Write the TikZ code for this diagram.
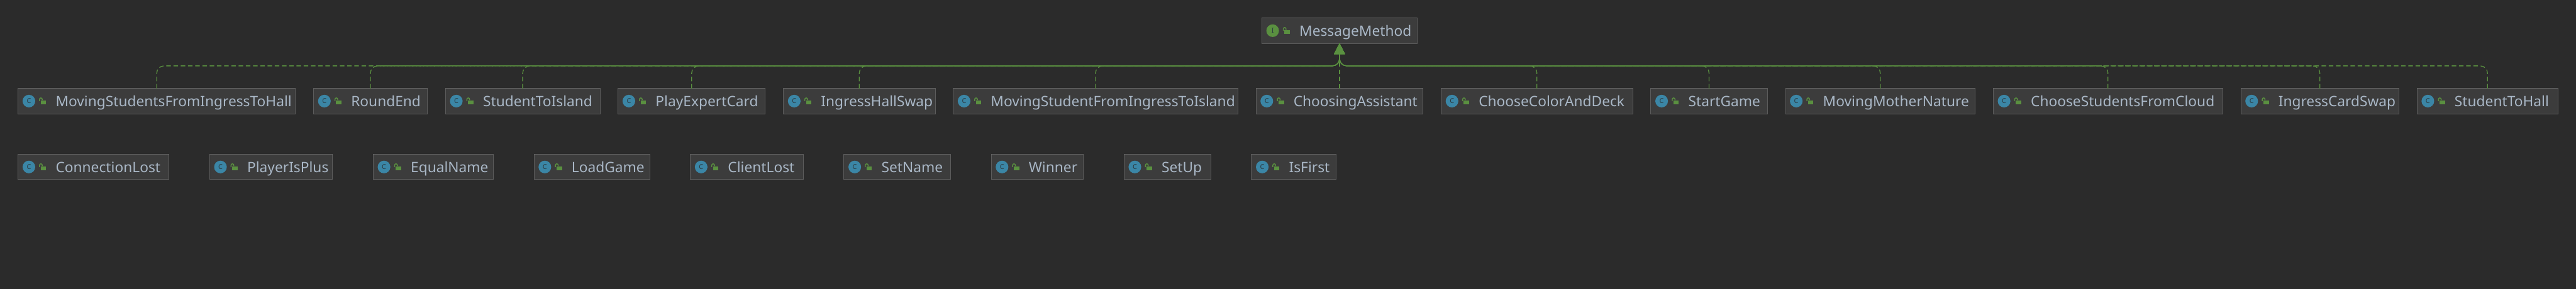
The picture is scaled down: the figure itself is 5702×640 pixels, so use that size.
\documentclass[tikz,border=0pt]{standalone}
\usepackage{fontspec}
\usepackage{tikz}
\usetikzlibrary{arrows.meta}
\setmainfont{Noto Sans}
\definecolor{canvasbg}{HTML}{2B2B2B}
\definecolor{boxfill}{HTML}{3C3C3C}
\definecolor{boxline}{HTML}{5C5C5C}
\definecolor{boxtop}{HTML}{686868}
\definecolor{labeltext}{HTML}{A9B7C6}
\definecolor{implgreen}{HTML}{5A9040}
\definecolor{classblue}{HTML}{3B86A6}
\definecolor{letterdark}{HTML}{2B3A40}
\tikzset{
  umlbox/.style={draw=boxline,fill=boxfill,line width=.012cm,outer sep=0,inner sep=0,minimum height=.56cm},
  umllabel/.style={anchor=base west,inner sep=0,text=labeltext,font=\fontsize{9pt}{11pt}\selectfont},
  umlicon/.style={circle,inner sep=0,minimum size=.28cm,text=letterdark,font=\fontsize{4.3pt}{5pt}\selectfont\bfseries},
  lockbody/.style={fill=implgreen,inner sep=0,minimum width=.12cm,minimum height=.09cm,outer sep=0},
  lockarc/.style={draw=implgreen,line width=.02cm},
  implements/.style={draw=implgreen,line width=.018cm,dash pattern=on .10cm off .06cm,rounded corners=.16cm,-{Triangle[length=.24cm,width=.24cm]}}
}
% name, left, right, top, icon colour, icon letter, label
\newcommand{\umlclass}[7]{
  \node[umlbox,minimum width={(#3-#2)*.01cm}] (#1) at ({(#2+#3)/2},{-#4-28}) {};
  \draw[boxtop,line width=.02cm] (#1.north west) -- (#1.north east);
  \node[umlicon,fill=#5] (#1-icon) at ({#2+24},{-#4-28}) {#6};
  \node[lockbody] (#1-lock) at ({#2+56},{-#4-31}) {};
  \draw[lockarc] ({#2+47.5},{-#4-28}) -- ({#2+47.5},{-#4-24}) arc (180:0:3) -- ({#2+53.5},{-#4-26});
  \node[umllabel] (#1-label) at ({#2+82.5},{-#4-40}) {#7};
}
\begin{document}
\begin{tikzpicture}[x=.01cm,y=.01cm]
  \fill[canvasbg] (0,0) rectangle (5702,-640);
  \useasboundingbox (0,0) rectangle (5702,-640);
  % interface on top
  \umlclass{messageMethod}{2793}{3137}{40}{implgreen}{I}{MessageMethod}
  % first row
  \umlclass{movingToHall}{40}{654}{196}{classblue}{C}{MovingStudentsFromIngressToHall}
  \umlclass{roundEnd}{694}{946}{196}{classblue}{C}{RoundEnd}
  \umlclass{studentToIsland}{986}{1328}{196}{classblue}{C}{StudentToIsland}
  \umlclass{playExpertCard}{1368}{1694}{196}{classblue}{C}{PlayExpertCard}
  \umlclass{ingressHallSwap}{1734}{2070}{196}{classblue}{C}{IngressHallSwap}
  \umlclass{movingToIsland}{2110}{2740}{196}{classblue}{C}{MovingStudentFromIngressToIsland}
  \umlclass{choosingAssistant}{2780}{3150}{196}{classblue}{C}{ChoosingAssistant}
  \umlclass{chooseColor}{3190}{3614}{196}{classblue}{C}{ChooseColorAndDeck}
  \umlclass{startGame}{3654}{3912}{196}{classblue}{C}{StartGame}
  \umlclass{movingNature}{3952}{4372}{196}{classblue}{C}{MovingMotherNature}
  \umlclass{chooseCloud}{4412}{4920}{196}{classblue}{C}{ChooseStudentsFromCloud}
  \umlclass{ingressCardSwap}{4960}{5310}{196}{classblue}{C}{IngressCardSwap}
  \umlclass{studentToHall}{5350}{5662}{196}{classblue}{C}{StudentToHall}
  % second row, no links
  \umlclass{connectionLost}{40}{374}{342}{classblue}{C}{ConnectionLost}
  \umlclass{playerIsPlus}{464}{736}{342}{classblue}{C}{PlayerIsPlus}
  \umlclass{equalName}{826}{1092}{342}{classblue}{C}{EqualName}
  \umlclass{loadGame}{1182}{1438}{342}{classblue}{C}{LoadGame}
  \umlclass{clientLost}{1528}{1778}{342}{classblue}{C}{ClientLost}
  \umlclass{setName}{1868}{2104}{342}{classblue}{C}{SetName}
  \umlclass{winner}{2194}{2398}{342}{classblue}{C}{Winner}
  \umlclass{setUp}{2488}{2680}{342}{classblue}{C}{SetUp}
  \umlclass{isFirst}{2770}{2958}{342}{classblue}{C}{IsFirst}
  % links up to the interface
  \coordinate (busJoin) at (2965,-146);
  \draw[implements] (movingToHall.north) |- (busJoin) -- (messageMethod.south);
  \draw[implements] (roundEnd.north) |- (busJoin) -- (messageMethod.south);
  \draw[implements] (studentToIsland.north) |- (busJoin) -- (messageMethod.south);
  \draw[implements] (playExpertCard.north) |- (busJoin) -- (messageMethod.south);
  \draw[implements] (ingressHallSwap.north) |- (busJoin) -- (messageMethod.south);
  \draw[implements] (movingToIsland.north) |- (busJoin) -- (messageMethod.south);
  \draw[implements] (choosingAssistant.north) -- (messageMethod.south);
  \draw[implements] (chooseColor.north) |- (busJoin) -- (messageMethod.south);
  \draw[implements] (startGame.north) |- (busJoin) -- (messageMethod.south);
  \draw[implements] (movingNature.north) |- (busJoin) -- (messageMethod.south);
  \draw[implements] (chooseCloud.north) |- (busJoin) -- (messageMethod.south);
  \draw[implements] (ingressCardSwap.north) |- (busJoin) -- (messageMethod.south);
  \draw[implements] (studentToHall.north) |- (busJoin) -- (messageMethod.south);
\end{tikzpicture}
\end{document}
